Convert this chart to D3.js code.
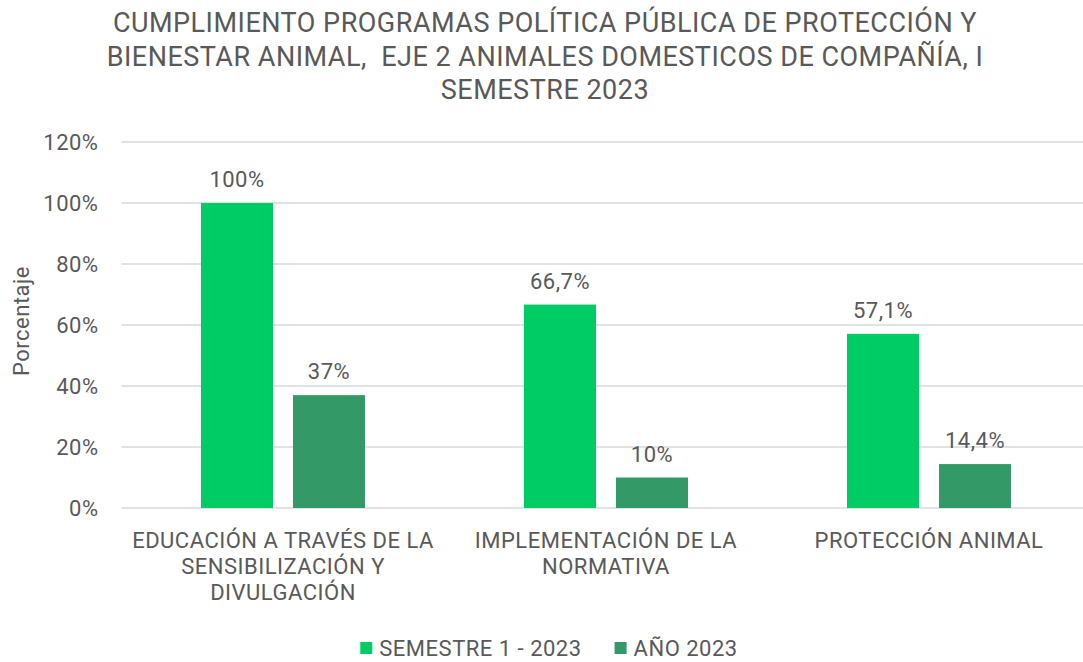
<!DOCTYPE html>
<html>
<head>
<meta charset="utf-8">
<script src="https://cdn.jsdelivr.net/npm/d3@7"></script>
<style>
  body { margin: 0; background: #fff; }
  svg { display: block; font-family: Roboto, "Noto Sans", sans-serif; }
  text { fill: #595959; letter-spacing: 0.5px; white-space: pre; }
</style>
</head>
<body>
<svg id="svg" width="1083" height="662"></svg>
<script>
// chart data
var categories = [
  ["EDUCACIÓN A TRAVÉS DE LA", "SENSIBILIZACIÓN Y", "DIVULGACIÓN"],
  ["IMPLEMENTACIÓN DE LA", "NORMATIVA"],
  ["PROTECCIÓN ANIMAL"]
];
var seriesNames = ["SEMESTRE 1 - 2023", "AÑO 2023"];
var semestreValues = [100, 66.7, 57.1];
var anioValues = [37, 10, 14.4];
var valueLabels = [["100%", "66,7%", "57,1%"], ["37%", "10%", "14,4%"]];
var yTicks = [0, 20, 40, 60, 80, 100, 120];
var titleLines = [
  "CUMPLIMIENTO PROGRAMAS POLÍTICA PÚBLICA DE PROTECCIÓN Y",
  "BIENESTAR ANIMAL,  EJE 2 ANIMALES DOMESTICOS DE COMPAÑÍA, I",
  "SEMESTRE 2023"
];

var colors = ["#00cc66", "#339966"];

var svg = d3.select("#svg");

// plot area
var plotLeft = 121.5, plotRight = 1090.5, plotTop = 142, plotBottom = 508;

var x0 = d3.scaleBand()
  .domain(d3.range(categories.length))
  .range([plotLeft, plotRight]);

var x1 = d3.scaleBand()
  .domain(d3.range(seriesNames.length))
  .range([0, x0.bandwidth()])
  .paddingInner(0.217)
  .paddingOuter(0.864);

var y = d3.scaleLinear().domain([0, 120]).range([plotBottom, plotTop]);

// gridlines
svg.append("g")
  .selectAll("line")
  .data(yTicks)
  .enter().append("line")
    .attr("x1", plotLeft)
    .attr("x2", plotRight)
    .attr("y1", function(d) { return y(d); })
    .attr("y2", function(d) { return y(d); })
    .attr("stroke", "#d9d9d9")
    .attr("stroke-width", 1.5);

// y axis labels
var yAxis = svg.append("g")
  .attr("transform", "translate(" + (plotLeft - 23) + ",0)")
  .call(d3.axisLeft(y).tickValues(yTicks).tickSize(0).tickFormat(function(d) { return d + "%"; }));
yAxis.select(".domain").remove();
yAxis.selectAll("text")
  .attr("x", 0)
  .attr("dy", "0.36em")
  .style("font-family", "Roboto, sans-serif")
  .style("font-size", "22px")
  .style("fill", "#595959");

// y axis title
svg.append("text")
  .attr("transform", "translate(29," + ((plotTop + plotBottom) / 2 - 4) + ") rotate(-90)")
  .attr("text-anchor", "middle")
  .style("font-size", "22px")
  .text("Porcentaje");

// bars
var allValues = [semestreValues, anioValues];
var bars = [];
allValues.forEach(function(vals, s) {
  vals.forEach(function(v, c) {
    bars.push({ s: s, c: c, v: v, label: valueLabels[s][c] });
  });
});

svg.append("g")
  .selectAll("rect")
  .data(bars)
  .enter().append("rect")
    .attr("x", function(d) { return x0(d.c) + x1(d.s); })
    .attr("y", function(d) { return y(d.v); })
    .attr("width", x1.bandwidth())
    .attr("height", function(d) { return y(0) - y(d.v); })
    .attr("fill", function(d) { return colors[d.s]; });

// value labels
svg.append("g")
  .selectAll("text")
  .data(bars)
  .enter().append("text")
    .attr("x", function(d) { return x0(d.c) + x1(d.s) + x1.bandwidth() / 2; })
    .attr("y", function(d) { return y(d.v) - 16; })
    .attr("text-anchor", "middle")
    .style("font-size", "22px")
    .text(function(d) { return d.label; });

// category labels
var catG = svg.append("g")
  .selectAll("text")
  .data(categories)
  .enter().append("text")
    .attr("text-anchor", "middle")
    .style("font-size", "22px");
catG.selectAll("tspan")
  .data(function(d, i) { return d.map(function(line) { return { line: line, i: i }; }); })
  .enter().append("tspan")
    .attr("x", function(d) { return x0(d.i) + x0.bandwidth() / 2; })
    .attr("y", function(d, j) { return 548 + j * 26; })
    .text(function(d) { return d.line; });

// title
svg.append("text")
  .attr("text-anchor", "middle")
  .style("font-size", "27px")
  .selectAll("tspan")
  .data(titleLines)
  .enter().append("tspan")
    .attr("x", 545)
    .attr("y", function(d, i) { return 32 + i * 33.5; })
    .text(function(d) { return d; });

// legend
var legend = svg.append("g");
var items = legend.selectAll("g")
  .data(seriesNames)
  .enter().append("g");
items.append("rect")
  .attr("width", 12)
  .attr("height", 12)
  .attr("y", -14)
  .attr("fill", function(d, i) { return colors[i]; });
items.append("text")
  .attr("x", 19)
  .attr("y", 0)
  .style("font-size", "22px")
  .text(function(d) { return d; });

var offsets = [], total = 0;
items.each(function(d, i) {
  var w = 19 + d3.select(this).select("text").node().getComputedTextLength();
  offsets.push(total);
  total += w + (i < seriesNames.length - 1 ? 33 : 0);
});
var startX = 549 - total / 2;
items.attr("transform", function(d, i) { return "translate(" + (startX + offsets[i]) + ",656)"; });
</script>
</body>
</html>
